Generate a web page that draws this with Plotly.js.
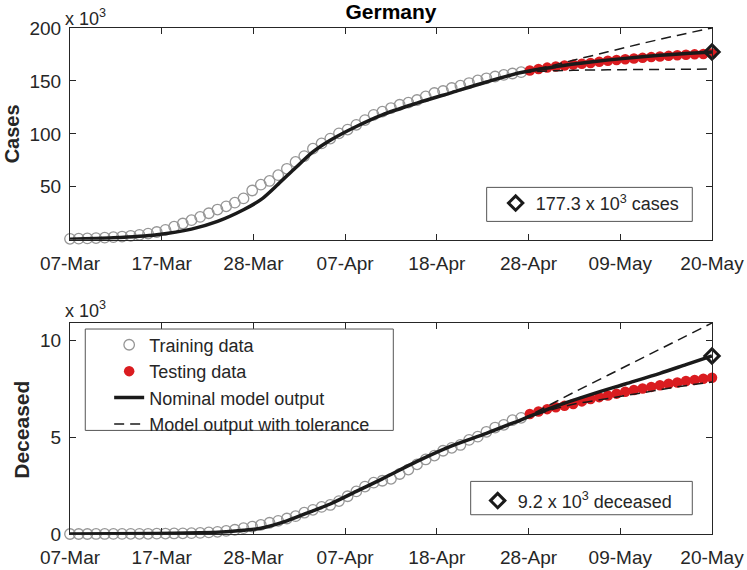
<!DOCTYPE html>
<html>
<head>
<meta charset="utf-8">
<script src="https://cdn.plot.ly/plotly-3.0.1.min.js"></script>
<style>
  html, body { margin: 0; padding: 0; background: #fff; }
  #chart { width: 747px; height: 570px; }
</style>
</head>
<body>
<div id="chart"></div>
<script>
// Germany: cases and deceased (x 10^3), day 0 = 07-Mar
const dayTicks = ['07-Mar', '17-Mar', '28-Mar', '07-Apr', '18-Apr', '28-Apr', '09-May', '20-May'];
const lastDay = 74;

// observed data, one value per day
const casesTrain = [0.8, 1.0, 1.2, 1.5, 1.9, 2.4, 3.0, 3.7, 4.6, 5.8,
    7.3, 9.3, 12.3, 15.3, 18.5, 21.5, 25.0, 28.5, 31.5, 35.0,
    39.0, 46.5, 52.0, 55.5, 61.0, 67.0, 73.5, 79.0, 86.0, 91.0,
    95.5, 100.5, 104.0, 108.5, 113.0, 118.0, 121.0, 124.4, 127.5, 129.5,
    132.0, 135.4, 138.6, 140.5, 143.3, 145.5, 148.0, 150.5, 152.5, 154.2,
    155.7, 157.0, 158.3];
const casesTest = [159.8, 161.2, 162.6, 163.7, 164.6, 165.4, 166.2, 167.0, 168.0, 169.0,
    169.8, 170.5, 171.2, 171.8, 172.5, 173.1, 173.7, 174.2, 174.7, 175.1,
    175.5, 175.9];

const deadTrain = [0, 0, 0, 0.002, 0.002, 0.003, 0.003, 0.007, 0.009, 0.011,
    0.017, 0.024, 0.028, 0.035, 0.045, 0.055, 0.08, 0.11, 0.16, 0.22,
    0.3, 0.38, 0.47, 0.58, 0.68, 0.8, 0.92, 1.1, 1.25, 1.4,
    1.5, 1.7, 1.95, 2.2, 2.45, 2.65, 2.75, 2.85, 3.1, 3.33,
    3.6, 3.85, 4.05, 4.3, 4.45, 4.6, 4.86, 5.03, 5.28, 5.5,
    5.64, 5.88, 6.0];
const deadTest = [6.2, 6.33, 6.45, 6.55, 6.62, 6.72, 6.85, 6.97, 7.07, 7.15,
    7.25, 7.35, 7.44, 7.52, 7.6, 7.68, 7.76, 7.83, 7.9, 7.96,
    8.02, 8.07];

// model output
const casesModelDays = [0, 5, 10, 14, 17, 20, 22, 24, 26, 28, 30, 33, 36, 40, 44, 48, 52, 56, 60, 64, 68, 71, 74];
const casesModel = [0.5, 1.8, 4.7, 10.0, 17.3, 28.3, 37.8, 52.5, 68.0, 83.0, 94.0, 107.0, 118.0, 129.0, 139.0, 149.0, 158.0, 163.5, 167.8, 171.3, 174.2, 175.9, 177.3];
const deadModelDays = [0, 10, 15, 18, 20, 22, 25, 28, 30, 33, 36, 40, 44, 48, 52, 56, 60, 64, 68, 71, 74];
const deadModel = [0, 0.02, 0.06, 0.12, 0.19, 0.3, 0.68, 1.2, 1.55, 2.2, 2.85, 3.75, 4.55, 5.2, 5.9, 6.6, 7.2, 7.75, 8.3, 8.75, 9.2];

// tolerance band
const tolDays = [52, 55, 58, 62, 66, 70, 74];
const casesUpper = [158.0, 163.5, 169.5, 177.5, 185.5, 193.0, 200.0];
const casesLower = [158.0, 159.3, 160.0, 160.5, 160.8, 161.0, 161.2];
const deadUpper = [5.9, 6.6, 7.3, 8.2, 9.1, 10.0, 10.9];
const deadLower = [5.9, 6.35, 6.7, 7.0, 7.3, 7.6, 7.85];

const casesFinal = 177.3;
const deadFinal = 9.2;

function range(a, b) {
    const out = [];
    for (let i = a; i <= b; i++) out.push(i);
    return out;
}

const trainDays = range(0, casesTrain.length - 1);
const testDays = range(casesTrain.length, casesTrain.length + casesTest.length - 1);

const FONT = 'Liberation Sans, Arial, Helvetica, sans-serif';
const INK = '#262626';
const RED = 'rgb(218,28,32)';

function makeTraces(xa, ya, train, test, mDays, model, upper, lower, finalVal, showLeg, finLegend, finLabel) {
    return [
        {
            x: trainDays, y: train, xaxis: xa, yaxis: ya,
            type: 'scatter', mode: 'markers', name: 'Training data',
            marker: { symbol: 'circle-open', size: 10.5, color: 'rgb(150,150,150)', line: { width: 1.3 } },
            cliponaxis: false, showlegend: showLeg
        },
        {
            x: testDays, y: test, xaxis: xa, yaxis: ya,
            type: 'scatter', mode: 'markers', name: 'Testing data',
            marker: { symbol: 'circle', size: 10.5, color: RED },
            cliponaxis: false, showlegend: showLeg
        },
        {
            x: mDays, y: model, xaxis: xa, yaxis: ya,
            type: 'scatter', mode: 'lines', name: 'Nominal model output',
            line: { color: '#1a1a1a', width: 3.5, shape: 'spline', smoothing: 0.8 },
            showlegend: showLeg
        },
        {
            x: tolDays, y: upper, xaxis: xa, yaxis: ya,
            type: 'scatter', mode: 'lines', name: 'Model output with tolerance',
            line: { color: '#1a1a1a', width: 1.5, dash: '10px,6px', shape: 'spline' },
            showlegend: showLeg
        },
        {
            x: tolDays, y: lower, xaxis: xa, yaxis: ya,
            type: 'scatter', mode: 'lines', name: 'Model output with tolerance',
            line: { color: '#1a1a1a', width: 1.5, dash: '10px,6px', shape: 'spline' },
            showlegend: false
        },
        {
            x: [lastDay], y: [finalVal], xaxis: xa, yaxis: ya,
            type: 'scatter', mode: 'markers', name: finLabel,
            marker: { symbol: 'diamond-open', size: 11, color: '#1a1a1a', line: { width: 3 } },
            cliponaxis: false, showlegend: true, legend: finLegend
        }
    ];
}

const traces = [].concat(
    makeTraces('x', 'y', casesTrain, casesTest, casesModelDays, casesModel, casesUpper, casesLower,
        casesFinal, false, 'legend2', casesFinal.toFixed(1) + ' x 10<sup>3</sup> cases'),
    makeTraces('x2', 'y2', deadTrain, deadTest, deadModelDays, deadModel, deadUpper, deadLower,
        deadFinal, true, 'legend3', deadFinal.toFixed(1) + ' x 10<sup>3</sup> deceased')
);

const tickvals = dayTicks.map((_, i) => i * lastDay / (dayTicks.length - 1));

function xAxis(anchor) {
    return {
        anchor: anchor, domain: [0, 1], range: [0, lastDay],
        tickvals: tickvals, ticktext: dayTicks,
        ticks: 'inside', ticklen: 6, tickcolor: INK, tickwidth: 1,
        showline: true, linecolor: INK, linewidth: 1, mirror: 'ticks',
        showgrid: false, zeroline: false, ticklabelstandoff: 6,
        tickfont: { family: FONT, size: 19, color: INK }
    };
}

function yAxis(anchor, domain, rng, vals) {
    return {
        anchor: anchor, domain: domain, range: rng, tickvals: vals,
        ticks: 'inside', ticklen: 6, tickcolor: INK, tickwidth: 1,
        showline: true, linecolor: INK, linewidth: 1, mirror: 'ticks',
        showgrid: false, zeroline: false, ticklabelstandoff: 4,
        tickfont: { family: FONT, size: 19, color: INK }
    };
}

const legendBase = {
    bgcolor: 'rgba(0,0,0,0)', borderwidth: 0,
    font: { family: FONT, size: 18, color: INK },
    xanchor: 'left', yanchor: 'top'
};

function box(x0, x1, y0, y1) {
    return {
        type: 'rect', xref: 'paper', yref: 'paper', x0: x0, x1: x1, y0: y0, y1: y1,
        line: { color: '#555555', width: 1 }, layer: 'above'
    };
}

function note(text, x, y, size, angle) {
    return {
        text: text, xref: 'paper', yref: 'paper', x: x, y: y,
        xanchor: angle ? 'center' : 'left', yanchor: 'middle',
        textangle: angle || 0, showarrow: false,
        font: { family: FONT, size: size, color: INK }
    };
}

const layout = {
    width: 747, height: 570,
    margin: { l: 70, r: 35, t: 28, b: 36 },
    paper_bgcolor: '#ffffff', plot_bgcolor: '#ffffff',
    title: {
        text: '<b>Germany</b>', xref: 'paper', x: 0.5, xanchor: 'center',
        y: 0.979, yanchor: 'middle',
        font: { family: FONT, size: 21, color: '#000000' }
    },
    xaxis: xAxis('y'),
    yaxis: yAxis('x', [0.5816, 1], [0, 200], [50, 100, 150, 200]),
    xaxis2: xAxis('y2'),
    yaxis2: yAxis('x2', [0, 0.417], [0, 10.9], [0, 5, 10]),
    showlegend: true,
    legend: Object.assign({}, legendBase, { x: 0.061, y: 0.41 }),
    legend2: Object.assign({}, legendBase, { x: 0.663, y: 0.69 }),
    legend3: Object.assign({}, legendBase, { x: 0.635, y: 0.102 }),
    shapes: [
        box(0.0238, 0.5036, 0.2047, 0.4051),
        box(0.649, 0.9693, 0.6178, 0.685),
        box(0.6241, 0.9693, 0.0381, 0.104)
    ],
    annotations: [
        note('x 10<sup>3</sup>', -0.011, 1.02, 18),
        note('x 10<sup>3</sup>', -0.011, 0.443, 18),
        note('<b>Cases</b>', -0.091, 0.791, 20, -90),
        note('<b>Deceased</b>', -0.0748, 0.206, 21, -90)
    ]
};

const config = { displayModeBar: false, responsive: false };

Plotly.newPlot(document.getElementById('chart'), traces, layout, config);
</script>
</body>
</html>
